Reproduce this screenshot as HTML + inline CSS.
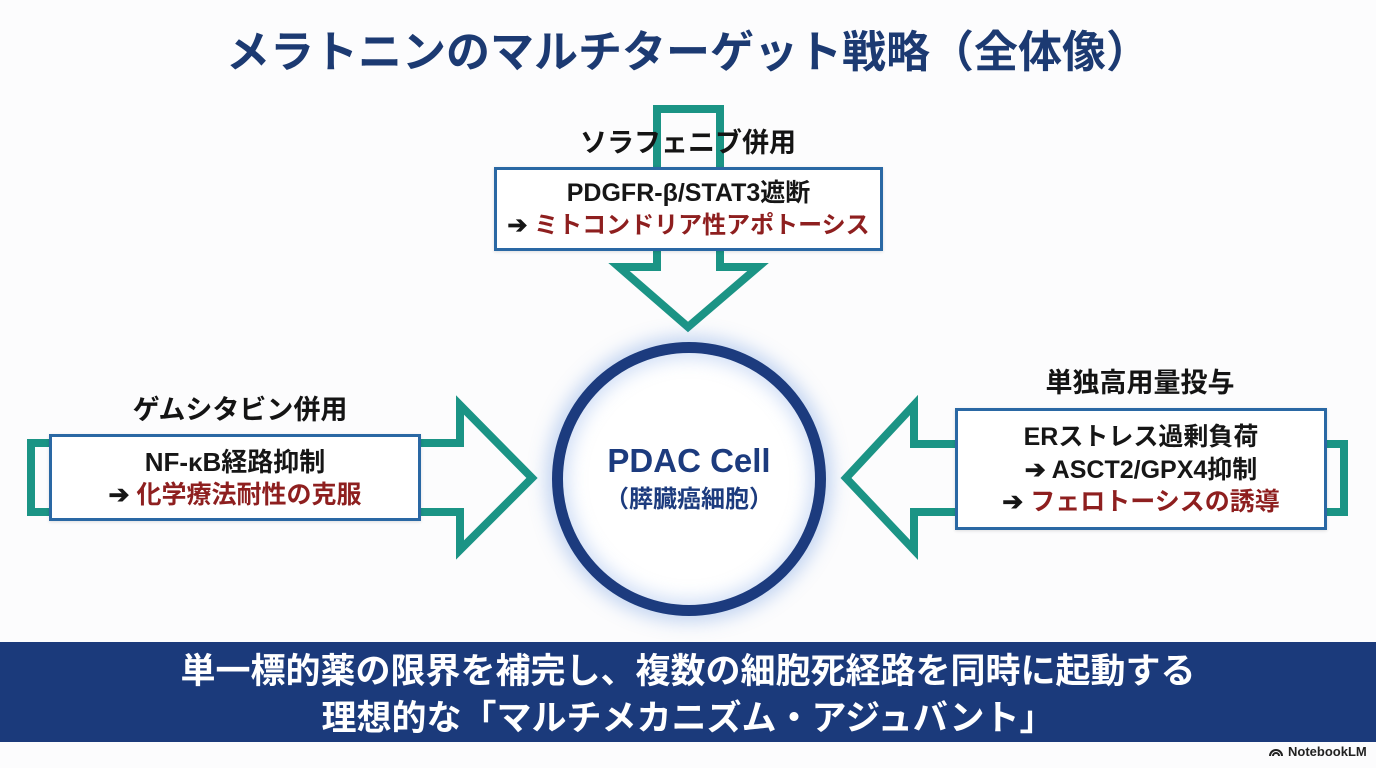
<!DOCTYPE html>
<html lang="ja">
<head>
<meta charset="utf-8">
<style>
  html,body{margin:0;padding:0;}
  body{width:1376px;height:768px;position:relative;overflow:hidden;background:#fcfcfd;
    font-family:"Liberation Sans","Noto Sans CJK JP",sans-serif;font-weight:700;}
  .abs{position:absolute;}
  .c{text-align:center;white-space:nowrap;}
  .title{left:0;width:1376px;top:23px;height:60px;line-height:60px;font-size:44px;color:#1c3a72;text-align:center;}
  .lbl{font-size:27px;color:#141414;line-height:34px;}
  .box{background:#fff;border:3px solid #2a68a4;box-sizing:border-box;box-shadow:0 1px 3px rgba(0,0,0,0.12);}
  .t{color:#161616;}
  .r{color:#8e1f1f;}
  .circle{left:552px;top:342px;width:274px;height:274px;border-radius:50%;box-sizing:border-box;
    border:11px solid #1c3b7e;background:#fff;
    box-shadow:0 0 18px 6px rgba(90,140,220,0.35), inset 0 0 18px 5px rgba(120,160,230,0.35);}
  .band{left:0;top:642px;width:1376px;height:100px;background:#1b3a7b;color:#fff;text-align:center;font-size:35px;}
</style>
</head>
<body>

<div class="abs title">メラトニンのマルチターゲット戦略（全体像）</div>

<svg class="abs" style="left:0;top:0" width="1376" height="768" viewBox="0 0 1376 768">
  <g fill="none" stroke="#1b9485" stroke-width="8" stroke-linejoin="miter">
    <polygon points="657,109 720,109 720,267 758,267 688,327 619,267 657,267"/>
    <polygon points="31,443 460,443 460,405 532,478 460,550 460,512 31,512"/>
    <polygon points="1344,444 914,444 914,405 846,478 914,550 914,512 1344,512"/>
  </g>
</svg>

<!-- top -->
<div class="abs c lbl" style="left:488px;width:400px;top:126px;">ソラフェニブ併用</div>
<div class="abs box" style="left:494px;top:167px;width:389px;height:84px;"></div>
<div class="abs c t" style="left:494px;width:389px;top:177px;font-size:25px;line-height:32px;">PDGFR-β/STAT3遮断</div>
<div class="abs c" style="left:494px;width:389px;top:210px;font-size:24px;line-height:32px;"><span class="t">➔ </span><span class="r">ミトコンドリア性アポトーシス</span></div>

<!-- left -->
<div class="abs c lbl" style="left:40px;width:400px;top:393px;">ゲムシタビン併用</div>
<div class="abs box" style="left:49px;top:434px;width:372px;height:87px;"></div>
<div class="abs c t" style="left:49px;width:372px;top:446px;font-size:26px;line-height:32px;">NF-κB経路抑制</div>
<div class="abs c" style="left:49px;width:372px;top:479px;font-size:25px;line-height:32px;"><span class="t">➔ </span><span class="r">化学療法耐性の克服</span></div>

<!-- right -->
<div class="abs c lbl" style="left:940px;width:400px;top:366px;">単独高用量投与</div>
<div class="abs box" style="left:955px;top:408px;width:372px;height:122px;"></div>
<div class="abs c t" style="left:955px;width:372px;top:421px;font-size:25px;line-height:32px;">ERストレス過剰負荷</div>
<div class="abs c t" style="left:955px;width:372px;top:454px;font-size:25px;line-height:32px;">➔ ASCT2/GPX4抑制</div>
<div class="abs c" style="left:955px;width:372px;top:486px;font-size:25px;line-height:32px;"><span class="t">➔ </span><span class="r">フェロトーシスの誘導</span></div>

<!-- circle -->
<div class="abs circle"></div>
<div class="abs c" style="left:552px;width:274px;top:440px;font-size:33px;line-height:42px;color:#1c3b7e;">PDAC Cell</div>
<div class="abs c" style="left:552px;width:274px;top:484px;font-size:24px;line-height:32px;color:#1c3b7e;">（膵臓癌細胞）</div>

<!-- band -->
<div class="abs band">
  <div style="position:absolute;left:0;width:1376px;top:7px;line-height:46px;">単一標的薬の限界を補完し、複数の細胞死経路を同時に起動する</div>
  <div style="position:absolute;left:0;width:1376px;top:54px;line-height:46px;">理想的な「マルチメカニズム・アジュバント」</div>
</div>

<!-- NotebookLM -->
<div class="abs" style="left:1268px;top:743px;height:16px;display:flex;align-items:center;font-size:13px;font-weight:700;color:#222;">
  <svg width="16" height="12" viewBox="0 0 16 12" style="margin-right:4px">
    <path d="M2 11 A6 6 0 0 1 14 11" fill="none" stroke="#222" stroke-width="2"/>
    <path d="M5 11 A3 3 0 0 1 11 11" fill="none" stroke="#222" stroke-width="2"/>
  </svg>
  <span style="font-family:'Liberation Sans',sans-serif;">NotebookLM</span>
</div>

</body>
</html>
